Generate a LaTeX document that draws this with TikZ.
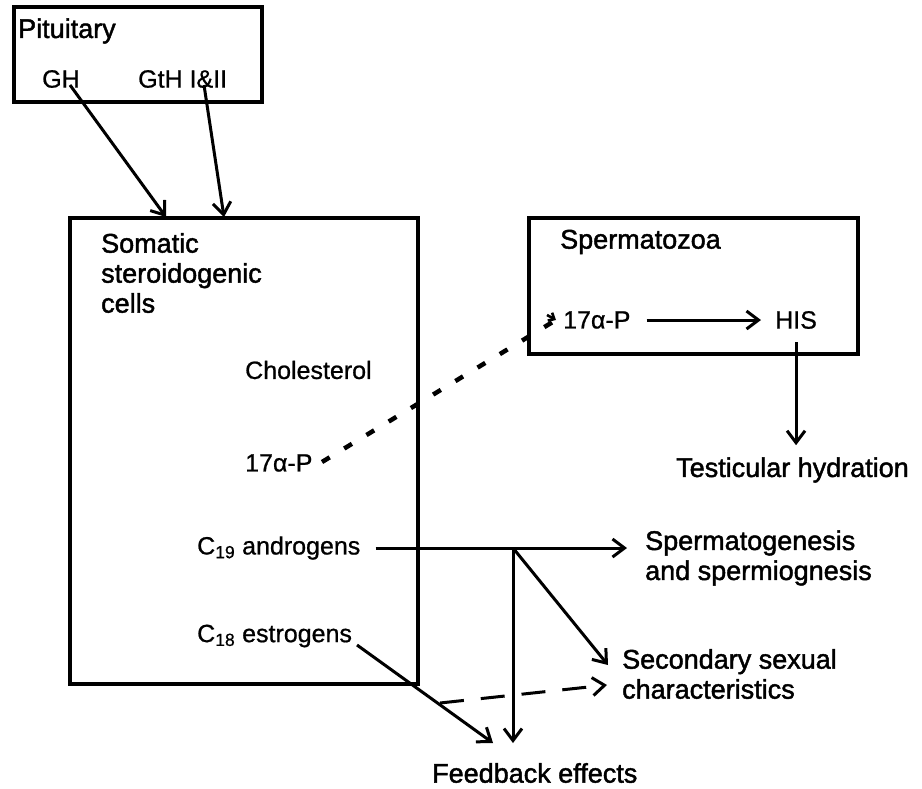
\documentclass[tikz,border=0pt]{standalone}
\usepackage{fontspec}
\setmainfont{Liberation Sans}
\newfontfamily\bigfont[FakeBold=1.6]{Liberation Sans}
\newfontfamily\smallfont[FakeBold=0.8]{Liberation Sans}
\usetikzlibrary{arrows.meta}
\begin{document}
\begin{tikzpicture}[x=1pt,y=-1pt,
  box/.style={draw,line width=3.2pt,outer sep=0pt,inner sep=0pt,anchor=north west},
  big/.style={font=\bigfont\fontsize{27}{30}\selectfont,inner sep=0pt,anchor=west,align=left},
  small/.style={font=\smallfont\fontsize{25}{28}\selectfont,inner sep=0pt,anchor=west},
  arr/.style={line width=3pt,-{Straight Barb[length=12pt,width=18pt,line width=3pt]}},
]
\useasboundingbox (0,0) rectangle (922,788);
% boxes
\node[box,minimum width=248pt,minimum height=95pt] (pit) at (14,7) {};
\node[box,minimum width=348pt,minimum height=466pt] (soma) at (70,218) {};
\node[box,minimum width=329pt,minimum height=136pt] (spz) at (529,218) {};
% texts
\node[big] (pitl) at (18,31) {Pituitary};
\node[small] (gh) at (42,79) {GH};
\node[small] (gth) at (138,79) {GtH I\&II};
\node[big] (somal) at (101,273) {Somatic\\steroidogenic\\cells};
\node[small] (chol) at (245,370) {Cholesterol};
\node[small] (pa) at (245,463) {17α-P};
\node[small] (c19) at (197,548) {C\textsubscript{19} androgens};
\node[small] (c18) at (197,636) {C\textsubscript{18} estrogens};
\node[big] (spzl) at (560,242) {Spermatozoa};
\node[small] (pb) at (563,320) {17α-P};
\node[small] (his) at (775,320) {HIS};
\node[big] (test) at (676,470) {Testicular hydration};
\node[big] (sgen) at (645,558) {Spermatogenesis\\and spermiognesis};
\node[big] (sec) at (622,674) {Secondary sexual\\characteristics};
\node[big] (feed) at (432,773) {Feedback effects};
% coordinates
\coordinate (ghs) at (70,85);
\coordinate (gths) at (204,85);
\coordinate (ghe) at (166,217);
\coordinate (gthe) at (224,217);
\coordinate (br) at (513,548);
\coordinate (c19e) at (627,548);
\coordinate (fdv) at (513,743);
\coordinate (secd) at (608,665);
\coordinate (c18s) at (357,645);
\coordinate (c18e) at (493,743);
\coordinate (dss) at (440,703);
\coordinate (dse) at (607,685);
\coordinate (pas) at (322,462);
\coordinate (pbe) at (556,320);
% arrows
\draw[arr] (ghs) -- (ghe);
\draw[arr] (gths) -- (gthe);
\draw[line width=3pt] ([xshift=15pt]c19.east) -- (br);
\draw[arr] (br) -- (c19e);
\draw[arr] (br) -- (fdv);
\draw[arr] (br) -- (secd);
\draw[arr] (c18s) -- (c18e);
\draw[arr,dash pattern=on 24pt off 17pt] (dss) -- (dse);
\draw[arr] ([xshift=16pt]pb.east) -- ([xshift=-14pt]his.west);
\draw[arr] ([yshift=-13pt]his.south) -- ([yshift=12pt]test.north -| his.south);
\draw[line width=4.5pt,dash pattern=on 9pt off 17pt] (pas) -- (pbe);
\draw[line width=2.6pt,-{Straight Barb[length=5pt,width=9pt,line width=2.6pt]}] ([xshift=-9pt,yshift=5pt]pbe) -- (pbe);
\end{tikzpicture}
\end{document}
